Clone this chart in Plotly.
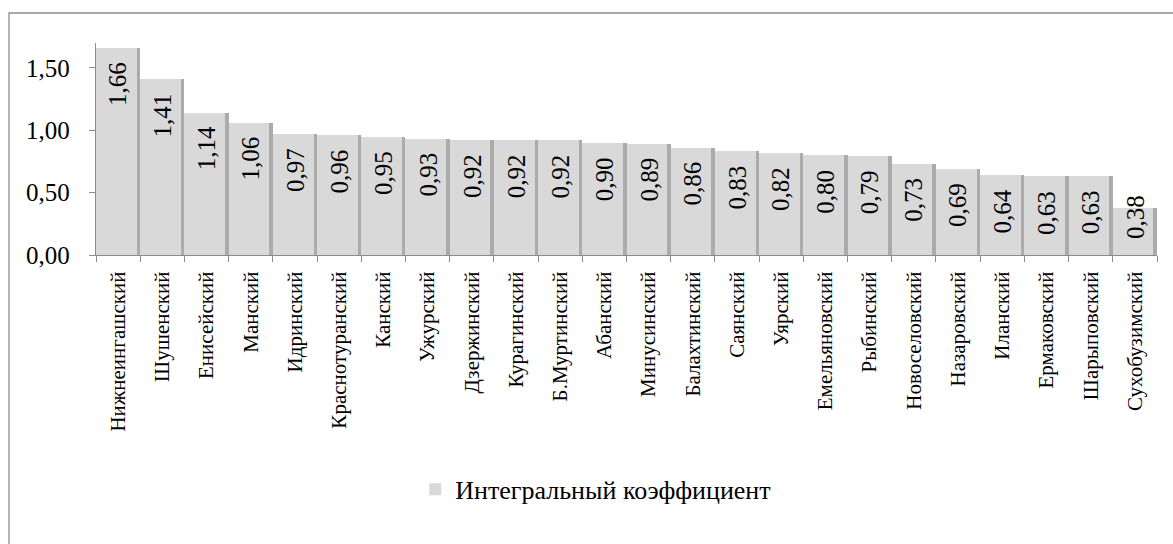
import plotly.graph_objects as go

categories = ["Нижнеингашский", "Шушенский", "Енисейский", "Манский", "Идринский",
              "Краснотуранский", "Канский", "Ужурский", "Дзержинский", "Курагинский",
              "Б.Муртинский", "Абанский", "Минусинский", "Балахтинский", "Саянский",
              "Уярский", "Емельяновский", "Рыбинский", "Новоселовский", "Назаровский",
              "Иланский", "Ермаковский", "Шарыповский", "Сухобузимский"]
values = [1.66, 1.41, 1.14, 1.06, 0.97, 0.96, 0.95, 0.93, 0.92, 0.92, 0.92, 0.90,
          0.89, 0.86, 0.83, 0.82, 0.80, 0.79, 0.73, 0.69, 0.64, 0.63, 0.63, 0.38]
series_name = "Интегральный коэффициент"
y_ticks = [0, 0.5, 1.0, 1.5]
y_tick_labels = ["0,00", "0,50", "1,00", "1,50"]

FONT = "Liberation Serif, Times New Roman, serif"
labels = [f"{v:.2f}".replace(".", ",") for v in values]

Y_MAX = 1.7
PLOT_H = 212  # px
px_per_unit = PLOT_H / Y_MAX
# label keeps inside the plot: lowest anchor so the label fits above the axis
label_len_px = 45
label_min = (label_len_px + 17 + 12) / px_per_unit

fig = go.Figure()
# shadow
fig.add_trace(go.Bar(
    x=categories, y=values, width=0.93, offset=-0.43,
    marker=dict(color="#ababab", line=dict(width=0)),
    showlegend=False, hoverinfo="skip",
))
fig.add_trace(go.Bar(
    x=categories, y=values, name=series_name, width=0.92, offset=-0.5,
    marker=dict(color="#d9d9d9", line=dict(width=0)),
    hoverinfo="x+y",
))

annotations = [dict(x=c, y=max(v, label_min), text=t, textangle=-90, showarrow=False,
                    xref="x", yref="y", yanchor="top", xanchor="center", yshift=-12,
                    font=dict(family=FONT, size=25, color="black"))
               for c, v, t in zip(categories, values, labels)]

fig.update_layout(
    width=1173, height=544,
    margin=dict(l=96, r=16, t=43, b=289),
    barmode="overlay", bargap=0,
    paper_bgcolor="white", plot_bgcolor="white",
    font=dict(family=FONT, size=21, color="black"),
    legend=dict(orientation="h", x=0.471, xanchor="center", y=-1.105, yanchor="middle",
                font=dict(family=FONT, size=26, color="black")),
    annotations=annotations,
    shapes=[dict(type="rect", xref="paper", yref="paper",
                 x0=(9 - 96) / 1061, x1=1.2, y0=-2, y1=1 + (43 - 13) / 212,
                 line=dict(color="#8c8c8c", width=1.3), layer="below")],
)
fig.update_xaxes(
    type="category", tickangle=-90, showline=True, linecolor="#8c8c8c", linewidth=1.3,
    ticks="outside", ticklen=6, tickcolor="#8c8c8c", tickson="boundaries",
    showgrid=False, range=[-0.5, len(categories) - 0.5], ticklabelstandoff=7,
    tickfont=dict(family=FONT, size=21, color="black"),
)
fig.update_yaxes(
    range=[0, Y_MAX], tickvals=y_ticks, ticktext=y_tick_labels,
    showline=True, linecolor="#8c8c8c", linewidth=1.3,
    ticks="outside", ticklen=6, tickcolor="#8c8c8c", showgrid=False, zeroline=False,
    ticklabelstandoff=14,
    tickfont=dict(family=FONT, size=25, color="black"),
)

fig.write_html("out.html", config={"displayModeBar": False},
               post_script="document.body.style.margin='0px';")
